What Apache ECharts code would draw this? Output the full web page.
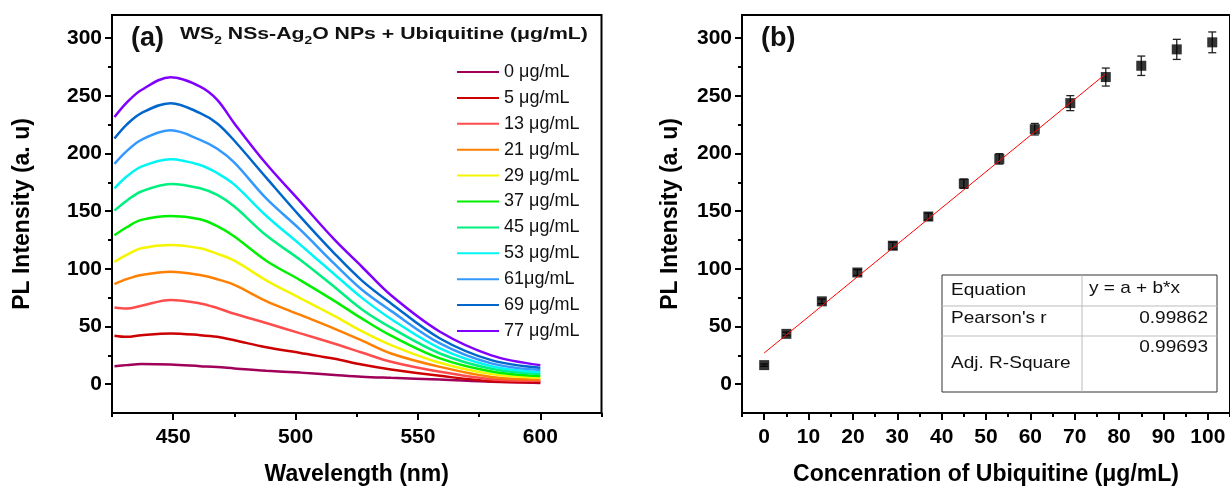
<!DOCTYPE html>
<html><head><meta charset="utf-8">
<script src="https://cdn.jsdelivr.net/npm/echarts@6/dist/echarts.min.js"></script>
<style>html,body{margin:0;padding:0;background:#fff}#c{width:1230px;height:491px}</style>
</head><body><div id="c"></div>
<script>
// ---------- Panel (a) data ----------
const wavelengths = [426, 431, 437, 449, 461, 468, 475, 488, 502, 516, 527, 539, 559, 580, 600];
const concLabels = ['0 μg/mL','5 μg/mL','13 μg/mL','21 μg/mL','29 μg/mL','37 μg/mL','45 μg/mL','53 μg/mL','61μg/mL','69 μg/mL','77 μg/mL'];
const pl_0  = [15.6, 16.5, 17.4, 17, 15.6, 14.8, 13.6, 11.6, 10, 8, 6.5, 5.5, 4, 2, 1];
const pl_5  = [42, 41, 42.5, 44, 42.5, 41, 38, 32, 27, 22, 17, 12.7, 7.2, 2.6, 1.7];
const pl_13 = [66.5, 65.5, 68, 73, 70, 66, 61, 53, 44, 35, 27.5, 19.4, 10.7, 4.3, 2.9];
const pl_21 = [86.8, 91, 94.6, 97.5, 94.6, 91, 86, 72, 60, 48, 38, 26.6, 15, 6.3, 4];
const pl_29 = [106, 112, 117.8, 120.7, 117.8, 113, 107, 90, 74.4, 59, 46, 33.9, 18.5, 8.7, 5.5];
const pl_37 = [129, 136, 142.4, 145.8, 143, 137, 128, 107, 90, 72, 57, 42, 22.3, 11, 7];
const pl_45 = [150.4, 159, 167, 173.6, 169.8, 164, 154, 129, 107.6, 84, 65, 49, 26.6, 13.3, 8.7];
const pl_53 = [169.8, 180, 188.6, 195, 190, 183, 173, 146, 120.7, 95, 75, 56.5, 31, 15.6, 10.4];
const pl_61 = [191, 202, 211.8, 220, 211.8, 204, 192, 161, 133.7, 104, 82, 63.5, 35.3, 18, 12.2];
const pl_69 = [213, 225, 235, 243.6, 235, 226, 211, 179, 145, 113, 90, 70, 39.6, 20.8, 14.2];
const pl_77 = [231.5, 244, 255, 266, 258, 246.5, 226, 191, 158, 125, 102, 77, 45.4, 25, 16.5];
const plSeries = [pl_0, pl_5, pl_13, pl_21, pl_29, pl_37, pl_45, pl_53, pl_61, pl_69, pl_77];
const lineColors = ['#A0005A','#CC0000','#FF4D4D','#FF8000','#F5F500','#00F000','#00F080','#00F5F5','#3399FF','#0066CC','#8000FF'];

// ---------- Panel (b) data ----------
const concentrations = [0, 5, 13, 21, 29, 37, 45, 53, 61, 69, 77, 85, 93, 101];
const peakIntensity  = [16.5, 43.6, 71.8, 96.8, 120, 145.3, 173.8, 195.3, 221, 243.6, 266.2, 276, 290.2, 296.3];
const errorValues    = [1, 1.5, 2, 2.5, 3, 3, 4, 4.5, 5, 6.5, 7.8, 8.4, 8.7, 9];
const fitLine = [[0, 27], [77, 269]];

// ---------- Tick values ----------
const yMajorTicks = [0, 50, 100, 150, 200, 250, 300];
const yMinorTicks = [25, 75, 125, 175, 225, 275];
const wlMajorTicks = [450, 500, 550, 600];
const wlMinorTicks = [425, 475, 525, 575, 625];
const concMajorTicks = [0, 10, 20, 30, 40, 50, 60, 70, 80, 90, 100];
const concMinorTicks = [-5, 5, 15, 25, 35, 45, 55, 65, 75, 85, 95, 105];

const FONT = 'Liberation Sans, Arial, sans-serif';
const chart = echarts.init(document.getElementById('c'), null, {renderer: 'canvas'});

function majorAxis(extra) {
  return Object.assign({
    type: 'value', splitLine: {show: false},
    axisLine: {show: true, onZero: false, lineStyle: {color: '#000', width: 2}},
    axisTick: {show: true, inside: false, length: 7, lineStyle: {color: '#000', width: 2}},
    axisLabel: {color: '#000', fontSize: 21, fontWeight: 'bold', fontFamily: FONT, margin: 10},
    nameTextStyle: {color: '#000', fontSize: 23, fontWeight: 'bold', fontFamily: FONT},
    nameLocation: 'middle'
  }, extra);
}
function minorAxis(extra) {
  return Object.assign({
    type: 'value', splitLine: {show: false},
    axisLine: {show: false, onZero: false},
    axisTick: {show: true, inside: false, length: 4, lineStyle: {color: '#000', width: 2}},
    axisLabel: {show: false}
  }, extra);
}
function ticks(vals, len) {
  return {show: true, length: len, customValues: vals, lineStyle: {color: '#000', width: 2}};
}
function labels(vals, margin) {
  return {color: '#000', fontSize: 21, fontWeight: 'bold', fontFamily: FONT, margin: margin, customValues: vals};
}

const series = [];
plSeries.forEach((arr, i) => {
  series.push({
    name: concLabels[i], type: 'line', xAxisIndex: 0, yAxisIndex: 0,
    data: wavelengths.map((w, j) => [w, arr[j]]),
    smooth: 0.35, symbol: 'none', showSymbol: false,
    lineStyle: {width: 2.5, color: lineColors[i]}, itemStyle: {color: lineColors[i]},
    z: 3 + i
  });
});
series.push({
  type: 'custom', xAxisIndex: 2, yAxisIndex: 2, z: 5,
  data: concentrations.map((c, i) => [c, peakIntensity[i] - errorValues[i], peakIntensity[i] + errorValues[i]]),
  encode: {x: 0, y: [1, 2]},
  renderItem: function (params, api) {
    const x = api.value(0), lo = api.value(1), hi = api.value(2);
    const p1 = api.coord([x, hi]), p2 = api.coord([x, lo]);
    const w = 4, st = {stroke: '#222', lineWidth: 1.3};
    return {type: 'group', children: [
      {type: 'line', shape: {x1: p1[0], y1: p1[1], x2: p2[0], y2: p2[1]}, style: st},
      {type: 'line', shape: {x1: p1[0] - w, y1: p1[1], x2: p1[0] + w, y2: p1[1]}, style: st},
      {type: 'line', shape: {x1: p2[0] - w, y1: p2[1], x2: p2[0] + w, y2: p2[1]}, style: st}
    ]};
  }
});
series.push({
  type: 'scatter', xAxisIndex: 2, yAxisIndex: 2, z: 6,
  symbol: 'rect', symbolSize: 10, itemStyle: {color: '#000'},
  data: concentrations.map((c, i) => [c, peakIntensity[i]])
});
series.push({
  type: 'line', xAxisIndex: 2, yAxisIndex: 2, z: 7, symbol: 'none',
  lineStyle: {color: '#FF0000', width: 1}, data: fitLine
});

function gtext(x, y, text, style, sx) {
  return {type: 'text', x: x, y: y, z: 100, scaleX: sx || 1,
    style: Object.assign({text: text, fill: '#111', font: 'normal 17px ' + FONT, textVerticalAlign: 'top'}, style || {})};
}

const tableStyle = {stroke: '#333', lineWidth: 1, fill: 'none'};
const innerStyle = {stroke: '#bbb', lineWidth: 1};

chart.setOption({
  animation: false,
  textStyle: {fontFamily: FONT},
  grid: [
    {left: 112, top: 15, width: 489.5, height: 398, show: true, borderColor: '#000', borderWidth: 2, containLabel: false},
    {left: 742, top: 15, width: 492, height: 398, show: true, borderColor: '#000', borderWidth: 2, containLabel: false}
  ],
  xAxis: [
    majorAxis({gridIndex: 0, min: 425, max: 625, position: 'bottom', name: 'Wavelength (nm)', nameGap: 50,
      axisTick: ticks(wlMajorTicks, 7), axisLabel: labels(wlMajorTicks, 14)}),
    minorAxis({gridIndex: 0, min: 425, max: 625, position: 'bottom', axisTick: ticks(wlMinorTicks, 4)}),
    majorAxis({gridIndex: 1, min: -5, max: 105, position: 'bottom', name: 'Concenration of Ubiquitine (μg/mL)', nameGap: 50,
      axisTick: ticks(concMajorTicks, 7), axisLabel: labels(concMajorTicks, 14)}),
    minorAxis({gridIndex: 1, min: -5, max: 105, position: 'bottom', axisTick: ticks(concMinorTicks, 4)})
  ],
  yAxis: [
    majorAxis({gridIndex: 0, min: -25, max: 320, position: 'left', name: 'PL Intensity (a. u)', nameGap: 78,
      axisTick: ticks(yMajorTicks, 7), axisLabel: labels(yMajorTicks, 10)}),
    minorAxis({gridIndex: 0, min: -25, max: 320, position: 'left', axisTick: ticks(yMinorTicks, 4)}),
    majorAxis({gridIndex: 1, min: -25, max: 320, position: 'left', name: 'PL Intensity (a. u)', nameGap: 60,
      axisTick: ticks(yMajorTicks, 7), axisLabel: labels(yMajorTicks, 10)}),
    minorAxis({gridIndex: 1, min: -25, max: 320, position: 'left', axisTick: ticks(yMinorTicks, 4)})
  ],
  legend: {
    data: concLabels, orient: 'vertical', left: 451, top: 58,
    itemWidth: 42, itemHeight: 14, itemGap: 7.9,
    textStyle: {fontSize: 18, color: '#111', fontFamily: FONT},
    itemStyle: {opacity: 0},
    selectedMode: false
  },
  graphic: [
    gtext(131, 25, '(a)', {font: 'bold 27px ' + FONT}),
    gtext(761, 25, '(b)', {font: 'bold 27px ' + FONT}),
    {type: 'text', x: 180, y: 22, z: 100, scaleX: 1.25,
      style: {text: '{n|WS}{s|2}{n| NSs-Ag}{s|2}{n|O NPs + Ubiquitine (μg/mL)}', fill: '#111',
        rich: {
          n: {fontSize: 17, fontWeight: 'bold', fontFamily: FONT, lineHeight: 24, verticalAlign: 'middle', fill: '#111'},
          s: {fontSize: 11, fontWeight: 'bold', fontFamily: FONT, lineHeight: 10, verticalAlign: 'bottom', fill: '#111'}
        }}},
    // fit statistics table
    {type: 'rect', z: 90, shape: {x: 942, y: 275, width: 275, height: 117}, style: tableStyle},
    {type: 'line', z: 90, shape: {x1: 942, y1: 306, x2: 1217, y2: 306}, style: innerStyle},
    {type: 'line', z: 90, shape: {x1: 942, y1: 336, x2: 1217, y2: 336}, style: innerStyle},
    {type: 'line', z: 90, shape: {x1: 1082, y1: 275, x2: 1082, y2: 392}, style: innerStyle},
    gtext(951, 282, 'Equation', null, 1.12),
    gtext(1089, 280, 'y = a + b*x', null, 1.12),
    gtext(951, 310, "Pearson's r", null, 1.12),
    gtext(1208, 310, '0.99862', {textAlign: 'right'}, 1.12),
    gtext(1208, 339, '0.99693', {textAlign: 'right'}, 1.12),
    gtext(951, 355, 'Adj. R-Square', null, 1.12)
  ],
  series: series
});
</script></body></html>
